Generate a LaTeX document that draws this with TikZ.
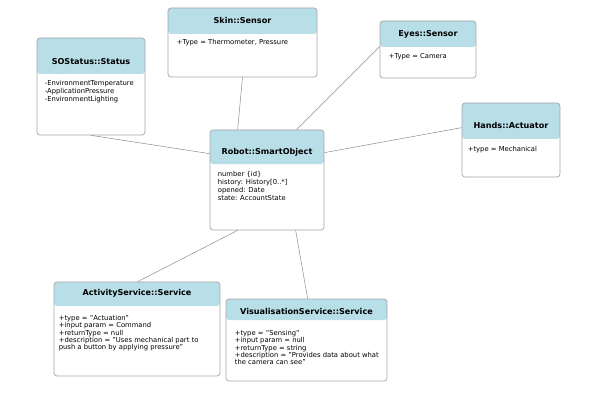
\documentclass[tikz,border=0pt]{standalone}
\usepackage{fontspec}
\setmainfont{DejaVu Sans}
\usepackage{tikz}
\usetikzlibrary{calc}
\definecolor{headblue}{RGB}{184,222,232}
\definecolor{boxgrey}{RGB}{165,165,165}
\definecolor{linegrey}{RGB}{140,140,140}

\begin{document}
\begin{tikzpicture}
    [x=1pt, y=-1pt,
     classbox/.style={draw=boxgrey, line width=0.7pt, rounded corners=3pt,
        inner sep=0pt, fill=white,
        path picture={\fill[headblue] (path picture bounding box.north west)
            rectangle ([yshift=-#1pt]path picture bounding box.north east);}},
     classtitle/.style={font=\fontsize{8.1}{9}\selectfont\bfseries, inner sep=0pt},
     attr/.style={font=\fontsize{6.8}{8}\selectfont, align=left,
        anchor=north west, inner sep=0pt},
     link/.style={draw=linegrey, line width=0.5pt}]
    \useasboundingbox (0,0) rectangle (602,409);

    % boxes
    \node[classbox=36, minimum width=108pt, minimum height=97pt] (status) at (91,86.5) {};
    \node[classbox=26, minimum width=149pt, minimum height=69pt] (skin) at (242.5,42.5) {};
    \node[classbox=26, minimum width=96pt, minimum height=57pt] (eyes) at (428,49.5) {};
    \node[classbox=36, minimum width=98pt, minimum height=74pt] (hands) at (511,140) {};
    \node[classbox=34, minimum width=114pt, minimum height=100pt] (robot) at (267,180) {};
    \node[classbox=24, minimum width=166pt, minimum height=94pt] (activity) at (137,329) {};
    \node[classbox=21, minimum width=161pt, minimum height=82pt] (vis) at (306.5,340) {};

    % titles
    \node[classtitle] (status-title) at ($(status.north)+(0,24)$) {SOStatus::Status};
    \node[classtitle] (skin-title) at ($(skin.north)+(0,13)$) {Skin::Sensor};
    \node[classtitle] (eyes-title) at ($(eyes.north)+(0,14)$) {Eyes::Sensor};
    \node[classtitle] (hands-title) at ($(hands.north)+(0,23)$) {Hands::Actuator};
    \node[classtitle] (robot-title) at ($(robot.north)+(0,23)$) {Robot::SmartObject};
    \node[classtitle] (activity-title) at ($(activity.north)+(0,12)$) {ActivityService::Service};
    \node[classtitle] (vis-title) at ($(vis.north)+(0,13)$) {VisualisationService::Service};

    % attributes
    \node[attr] (status-attr) at ($(status.north west)+(8,42.5)$)
        {-EnvironmentTemperature\\-ApplicationPressure\\-EnvironmentLighting};
    \node[attr] (skin-attr) at ($(skin.north west)+(9,31.5)$)
        {+Type = Thermometer, Pressure};
    \node[attr] (eyes-attr) at ($(eyes.north west)+(9,32.5)$)
        {+Type = Camera};
    \node[attr] (hands-attr) at ($(hands.north west)+(6,43.5)$)
        {+type = Mechanical};
    \node[attr] (robot-attr) at ($(robot.north west)+(8,41.5)$)
        {number \{id\}\\history: History[0..*]\\opened: Date\\state: AccountState};
    \node[attr, font=\fontsize{6.8}{7.3}\selectfont] (activity-attr) at ($(activity.north west)+(5,33.5)$)
        {+type = "Actuation"\\+input param = Command\\+returnType = null\\
         +description = "Uses mechanical part to\\push a button by applying pressure"};
    \node[attr, font=\fontsize{6.8}{7.3}\selectfont] (vis-attr) at ($(vis.north west)+(9,31.5)$)
        {+type = "Sensing"\\+input param = null\\+returnType = string\\
         +description = "Provides data about what\\the camera can see"};

    % links
    \draw[link] (status.south) -- ($(robot.north west)+(0,24)$);
    \draw[link] (skin.south) -- ($(robot.north west)+(28,0)$);
    \draw[link] ($(eyes.north west)+(0,26)$) -- ($(robot.north west)+(87,0)$);
    \draw[link] ($(hands.north west)+(0,25)$) -- ($(robot.north east)+(0,23)$);
    \draw[link] ($(robot.south west)+(28,0)$) -- ($(activity.north west)+(84,0)$);
    \draw[link] ($(robot.south west)+(86,0)$) -- ($(vis.north west)+(82,0)$);
\end{tikzpicture}
\end{document}
